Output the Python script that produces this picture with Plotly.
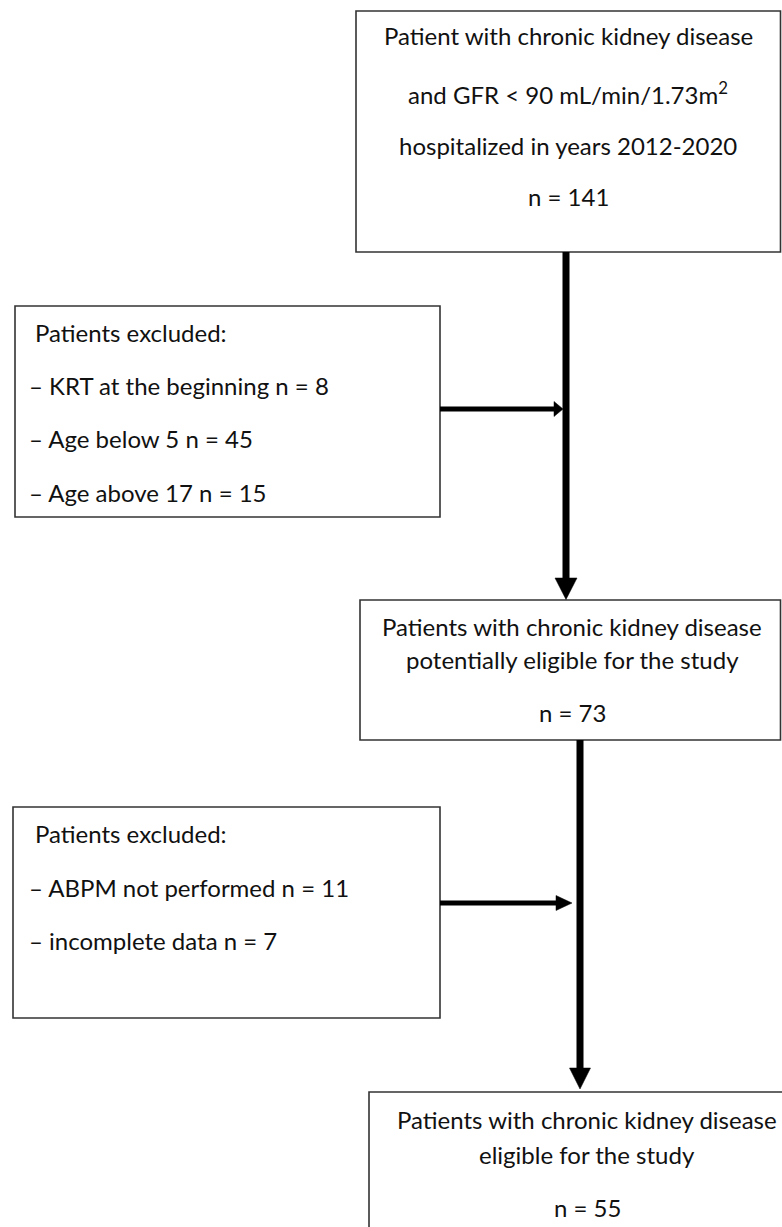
import plotly.graph_objects as go

# ---- data ----
stage_titles = [
    ["Patient with chronic kidney disease",
     "and GFR &lt; 90 mL/min/1.73m<sup>2</sup>",
     "hospitalized in years 2012-2020"],
    ["Patients with chronic kidney disease",
     "potentially eligible for the study"],
    ["Patients with chronic kidney disease",
     "eligible for the study"],
]
stage_n = [141, 73, 55]

excl1_reasons = ["KRT at the beginning", "Age below 5", "Age above 17"]
excl1_n = [8, 45, 15]
excl2_reasons = ["ABPM not performed", "incomplete data"]
excl2_n = [11, 7]

# ---- layout geometry (pixels, y downward) ----
W, H = 782, 1227
FONT = dict(family="Lato, Carlito, Calibri, sans-serif", size=24, color="#111111")
BOX_LINE = dict(color="#333333", width=1.6)

stage_boxes = [(356, 11, 780.5, 252), (360, 600, 780.5, 740), (369, 1092, 810, 1260)]
stage_line_y = [[35, 93, 145, 196], [626, 659, 712], [1119, 1154, 1207]]
stage_cx = [568, 572, 587]

excl_boxes = [(15, 306, 440, 517), (13, 807, 440, 1018)]
excl_line_y = [[332, 385, 438, 492], [833, 887, 940]]
excl_text_x = 27

fig = go.Figure()

shapes = []
annotations = []

def rect(b):
    x0, y0, x1, y1 = b
    shapes.append(dict(type="rect", xref="x", yref="y", x0=x0, y0=y0, x1=x1, y1=y1,
                       line=BOX_LINE, fillcolor="rgba(0,0,0,0)", layer="above"))

def txt(x, y, s, anchor):
    annotations.append(dict(x=x, y=y, xref="x", yref="y", text=s, showarrow=False,
                            xanchor=anchor, yanchor="middle", font=FONT))

for i, b in enumerate(stage_boxes):
    rect(b)
    lines = stage_titles[i] + [f"n = {stage_n[i]}"]
    for s, y in zip(lines, stage_line_y[i]):
        txt(stage_cx[i], y, s, "center")

for b, reasons, ns, ys in [(excl_boxes[0], excl1_reasons, excl1_n, excl_line_y[0]),
                           (excl_boxes[1], excl2_reasons, excl2_n, excl_line_y[1])]:
    rect(b)
    txt(excl_text_x + 6, ys[0], "Patients excluded:", "left")
    for r, n, y in zip(reasons, ns, ys[1:]):
        txt(excl_text_x, y, f"– {r} n = {n}", "left")

def line(x0, y0, x1, y1, w):
    shapes.append(dict(type="line", xref="x", yref="y", x0=x0, y0=y0, x1=x1, y1=y1,
                       line=dict(color="black", width=w)))

def tri(p):
    d = "M " + " L ".join(f"{a},{b}" for a, b in p) + " Z"
    shapes.append(dict(type="path", xref="x", yref="y", path=d,
                       fillcolor="black", line=dict(color="black", width=0.5)))

# vertical arrows
line(566, 252, 566, 580, 7)
tri([(555, 578), (577, 578), (566, 599.5)])
line(580, 740, 580, 1070, 7)
tri([(569.5, 1068), (590.5, 1068), (580, 1089)])

# horizontal arrows
line(440, 409, 556, 409, 5)
tri([(554, 401.5), (554, 416.5), (563, 409)])
line(440, 903, 557, 903, 5)
tri([(556, 895.5), (556, 910.5), (572, 903)])

fig.update_layout(
    width=W, height=H, margin=dict(l=0, r=0, t=0, b=0),
    paper_bgcolor="white", plot_bgcolor="white",
    xaxis=dict(range=[0, W], visible=False, fixedrange=True),
    yaxis=dict(range=[H, 0], visible=False, fixedrange=True),
    shapes=shapes, annotations=annotations, showlegend=False,
)

fig.write_html("out.html", config={"displayModeBar": False},
               post_script="document.body.style.margin='0';document.body.style.overflow='hidden';")
